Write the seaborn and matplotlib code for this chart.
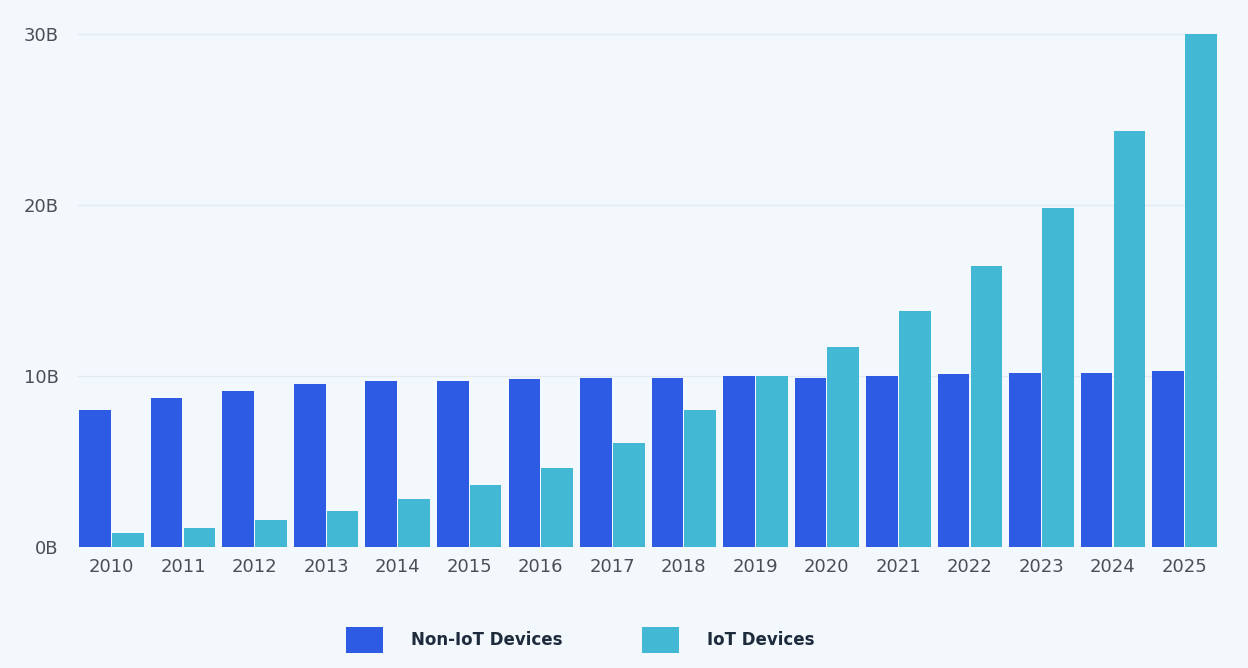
import matplotlib
matplotlib.use("Agg")
import matplotlib.pyplot as plt
import matplotlib.patches as mpatches
import pandas as pd
import seaborn as sns

years = [str(y) for y in range(2010, 2026)]
non_iot = [8.0, 8.7, 9.1, 9.5, 9.7, 9.7, 9.8, 9.9, 9.9, 10.0, 9.9, 10.0, 10.1, 10.2, 10.2, 10.3]
iot = [0.8, 1.1, 1.6, 2.1, 2.8, 3.6, 4.6, 6.1, 8.0, 10.0, 11.7, 13.8, 16.4, 19.8, 24.3, 30.0]
series_names = ["Non-IoT Devices", "IoT Devices"]
y_ticks = [0, 10, 20, 30]
y_tick_labels = ["0B", "10B", "20B", "30B"]

colors = ["#2D5BE3", "#42B8D4"]
bg = "#F3F8FD"

df = pd.DataFrame({
    "year": years * 2,
    "devices": non_iot + iot,
    "kind": [series_names[0]] * len(years) + [series_names[1]] * len(years),
})

sns.set_style("white")
plt.rcParams["font.family"] = ["DejaVu Sans"]

fig = plt.figure(figsize=(12.48, 6.68), dpi=100, facecolor=bg)
ax = fig.add_axes([0.0625, 0.181, 0.9135, 0.770])
ax.set_facecolor(bg)

sns.barplot(data=df, x="year", y="devices", hue="kind", palette=colors,
            width=0.92, gap=0.04, saturation=1, linewidth=0, ax=ax,
            legend=False)

ax.set_xlim(-0.47, len(years) - 0.53)
ax.set_ylim(0, 30.05)
ax.set_yticks(y_ticks)
ax.set_yticklabels(y_tick_labels)
ax.yaxis.grid(True, color="#E3E9F0", linewidth=1)
ax.set_axisbelow(True)
for s in ax.spines.values():
    s.set_visible(False)
ax.set_xlabel("")
ax.set_ylabel("")
ax.tick_params(axis="both", length=0, labelsize=13, colors="#4A4F57")
ax.tick_params(axis="x", pad=8)
ax.tick_params(axis="y", pad=14)

handles = [mpatches.Patch(facecolor=c, edgecolor="none", label=n)
           for c, n in zip(colors, series_names)]
leg = fig.legend(handles=handles, loc="center", ncol=2,
                 bbox_to_anchor=(0.465, 0.042), frameon=False,
                 handlelength=2.2, handleheight=2.1, handletextpad=1.68,
                 columnspacing=4.8,
                 prop={"size": 12, "weight": "bold"})
for t in leg.get_texts():
    t.set_color("#1E2B3C")

fig.savefig("out.png", dpi=100, facecolor=bg)
